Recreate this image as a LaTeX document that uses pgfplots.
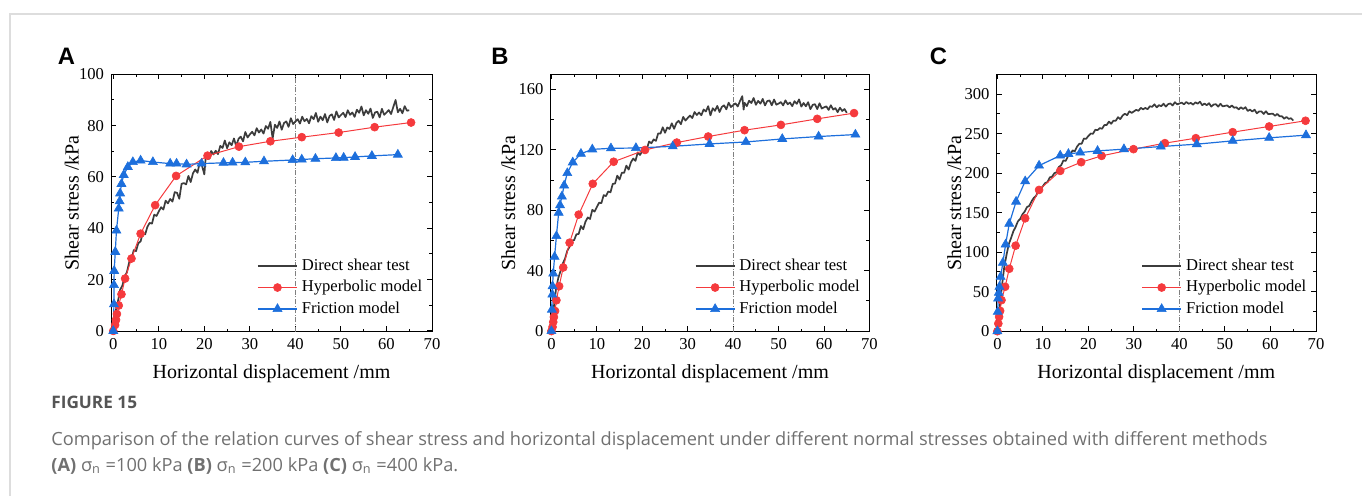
\documentclass[border=0pt]{standalone}
\usepackage{fontspec}
\setmainfont{Liberation Serif}
\newfontfamily\capfont{Open Sans}
\newfontfamily\panelfont{Liberation Sans}
\usepackage{pgfplots}
\pgfplotsset{compat=1.18}
\definecolor{testgray}{HTML}{3C3C3C}
\definecolor{hypred}{HTML}{F53A3D}
\definecolor{fricblue}{HTML}{1D6FDC}
\definecolor{capgray}{HTML}{707070}
\definecolor{capdark}{HTML}{555555}
\definecolor{framegray}{HTML}{DDDDDD}
\definecolor{vgray}{HTML}{808080}
\pgfplotsset{
  myax/.style={
    scale only axis, height=128.7pt,
    xmax=70, xtick={0,10,...,70}, minor x tick num=1, minor y tick num=1,
    axis line style={line width=0.5pt},
    every tick/.style={black, line width=0.5pt},
    major tick length=2.6pt, minor tick length=1.5pt,
    tick label style={font=\fontsize{8.3}{10}\selectfont},
    /pgf/number format/assume math mode=true,
    label style={font=\fontsize{8.3}{10}\selectfont},
    xlabel={Horizontal displacement /mm},
    ylabel={Shear stress /kPa},
    every axis x label/.style={at={(axis description cs:0.5,-0.163)}, anchor=center},
    clip=false,
    legend cell align=left,
    legend style={draw=none, fill=none, font=\fontsize{8.3}{10}\selectfont, anchor=north west, row sep=-0.55pt, inner sep=0pt},
    legend image code/.code={\draw[mark repeat=2,mark phase=2,##1] plot coordinates {(0pt,0pt) (9.75pt,0pt) (19.5pt,0pt)};},
  },
  testst/.style={testgray, line width=0.85pt, line join=round, no marks},
  hypst/.style={hypred, line width=0.5pt, mark=*, mark size=2pt, mark options={fill=hypred, draw=hypred, line width=0.3pt}},
  fricst/.style={fricblue, line width=0.6pt, mark=triangle*, mark size=2.6pt, mark options={fill=fricblue, draw=fricblue, line width=0.3pt}},
  vlinest/.style={vgray, line width=0.4pt, dash pattern=on 2.5pt off 0.8pt on 0.5pt off 0.8pt, forget plot, no marks},
}
\begin{document}
\begin{tikzpicture}
\useasboundingbox (0,0) rectangle (681pt,248pt);
\draw[framegray, line width=1pt] (5pt,0) -- (5pt,241pt) -- (681pt,241pt);
% panel letters
\node[anchor=base west, inner sep=0, font=\panelfont\bfseries\fontsize{11.9}{12}\selectfont] at (28.7pt,215.5pt) {A};
\node[anchor=base west, inner sep=0, font=\panelfont\bfseries\fontsize{11.9}{12}\selectfont] at (245.5pt,215.5pt) {B};
\node[anchor=base west, inner sep=0, font=\panelfont\bfseries\fontsize{11.9}{12}\selectfont] at (464.7pt,215.5pt) {C};
% ---------------- A
\begin{axis}[myax, at={(55.5pt,82.15pt)}, anchor=south west, width=160.5pt,
  xmin=-0.5, ymin=-0.3, ymax=100, ytick={0,20,...,100},
  every axis y label/.style={at={(axis description cs:-0.1224,0.5)}, anchor=center, rotate=90},
  legend style={at={(0.454,0.30)}}]
\addplot[vlinest] coordinates {(40,-0.3) (40,100)};
\addplot[testst] coordinates {
(0,0) (0.25,4) (0.5,7.5) (1.0,11.3) (1.5,16.0) (2.0,17.7) (2.5,21.2) (3.0,22.9) (3.5,26.8) (4.0,27.9)
(4.5,31.5) (5.0,31.1) (5.5,34.2) (6.0,34.9) (6.5,38.3) (7.0,37.6) (7.5,40.6) (8.0,42.1) (8.5,41.8) (9.0,45.3)
(9.5,44.8) (10.0,46.6) (10.5,48.2) (11.0,47.3) (11.5,50.75) (12.0,49.7) (12.5,51.4) (13.0,50.4) (13.5,54.1) (14.0,53.8)
(14.5,51.5) (15.0,57.3) (15.5,57.6) (16.0,57.1) (16.5,60.4) (17.0,58.0) (17.5,61.4) (18.0,62.9) (18.5,61.6) (19.0,65.8)
(19.5,64.3) (20.0,61.0) (20.3,67.6) (20.5,67.8) (21.0,67.0) (21.5,70.1) (22.0,68.75) (22.5,70.2) (23.0,68.9) (23.5,72.1)
(24.0,71.3) (24.5,74.2) (25.0,71.2) (25.5,73.5) (26.0,72.35) (26.5,75.0) (27.0,72.0) (27.5,74.8) (28.0,75.7) (28.5,73.85)
(29.0,77.5) (29.5,75.4) (30.0,76.6) (30.5,77.6) (31.0,76.2) (31.5,79.0) (32.0,77.3) (32.5,78.5) (33.0,76.9) (33.5,79.85)
(34.0,78.8) (34.5,81.45) (35.0,75.0) (35.5,80.35) (36.0,79.1) (36.5,81.6) (37.0,78.4) (37.5,81.0) (38.0,81.65) (38.5,79.5)
(39.0,82.9) (39.5,80.6) (40.0,81.6) (40.5,82.5) (41.0,80.8) (41.5,83.5) (42.0,81.7) (42.5,82.6) (43.0,80.9) (43.5,83.7)
(44.0,82.5) (44.5,84.95) (45.0,81.5) (45.5,83.5) (46.0,82.1) (46.5,84.5) (47.0,81.25) (47.5,83.8) (48.0,84.4) (48.5,82.2)
(49.0,85.55) (49.5,83.2) (50.0,84.1) (50.5,85.0) (51.0,83.3) (51.5,86.0) (52.0,84.2) (52.5,85.1) (53.0,83.4) (53.5,86.2)
(54.0,85.0) (54.5,87.45) (55.0,84.0) (55.5,86.0) (56.0,84.6) (56.5,86.65) (57.0,83.0) (57.5,85.15) (58.0,85.4) (58.5,83.2)
(59.0,86.55) (59.5,84.2) (60.0,85.1) (60.5,86.05) (61.0,84.5) (61.5,87.25) (62.0,90.0) (62.5,85.2) (63.0,86.55) (63.5,84.8)
(64.0,87.6) (64.5,85.8) (65.0,86.0)};
\addplot[hypst] coordinates {
(0,0) (0.4,2.3) (0.6,4.3) (0.8,6.6) (1.2,9.9) (1.8,14.3) (2.6,20.4) (4.0,28.2) (6.0,37.9) (9.2,49.0)
(13.8,60.4) (20.7,68.3) (27.6,71.8) (34.5,73.9) (41.4,75.5) (49.5,77.3) (57.4,79.4) (65.4,81.2)};
\addplot[fricst] coordinates {
(0,0) (0.15,10.4) (0.15,17.9) (0.2,23.4) (0.44,30.8) (0.7,39.1) (1.2,47.7) (1.4,50.5) (1.5,53.6) (1.8,57.3)
(2.3,60.8) (3.2,63.9) (4.3,65.8) (6.0,66.4) (8.7,65.8) (12.5,65.2) (13.9,65.2) (16.1,64.9) (19.4,65.2) (24.2,65.5)
(26.2,65.6) (29.0,65.7) (33.1,66.1) (39.4,66.6) (41.4,66.8) (44.4,67.1) (48.9,67.4) (50.6,67.5) (53.1,67.8) (56.8,68.2)
(62.5,68.7)};
\legend{Direct shear test, Hyperbolic model, Friction model}
\end{axis}
% ---------------- B
\begin{axis}[myax, at={(275.25pt,82.15pt)}, anchor=south west, width=159.5pt,
  xmin=-0.2, ymin=-0.4, ymax=170, ytick={0,40,...,160},
  every axis y label/.style={at={(axis description cs:-0.1323,0.5)}, anchor=center, rotate=90},
  legend style={at={(0.451,0.30)}}]
\addplot[vlinest] coordinates {(40,-0.4) (40,170)};
\addplot[testst] coordinates {
(0,0) (0.25,8) (0.5,15) (1.0,27.4) (1.5,35.0) (2.0,39.7) (2.5,44.7) (3.0,48.0) (3.5,53.2) (4.0,55.85)
(4.5,59.9) (5.0,60.2) (5.5,64.05) (6.0,64.3) (6.5,69.55) (7.0,67.4) (7.5,72.5) (8.0,75.2) (8.5,74.2) (9.0,80.3)
(9.5,79.1) (10.0,82.1) (10.5,85.0) (11.0,84.7) (11.5,90.0) (12.0,89.35) (12.5,92.4) (13.0,91.9) (13.5,97.4) (14.0,97.7)
(14.5,102.9) (15.0,100.3) (15.5,104.8) (16.0,104.8) (16.5,109.55) (17.0,106.9) (17.5,111.75) (18.0,114.2) (18.5,112.7) (19.0,118.3)
(19.5,116.6) (20.0,119.1) (20.5,121.5) (21.0,120.7) (21.5,125.5) (22.0,124.35) (22.5,126.9) (23.0,125.9) (23.5,130.9) (24.0,130.7)
(24.5,134.9) (25.0,131.3) (25.5,134.8) (26.0,133.8) (26.5,137.55) (27.0,133.9) (27.5,137.75) (28.0,139.2) (28.5,136.95) (29.0,141.8)
(29.5,139.35) (30.0,141.1) (30.5,142.7) (31.0,141.0) (31.5,145.0) (32.0,143.05) (32.5,144.7) (33.0,142.9) (33.5,146.7) (34.0,145.4)
(34.5,148.9) (35.0,142.8) (35.5,147.5) (36.0,145.8) (36.5,149.1) (37.0,145.0) (37.5,148.4) (38.0,149.45) (38.5,146.8) (39.0,151.2)
(39.5,148.3) (40.0,149.6) (40.5,150.75) (41.0,148.7) (41.5,152.25) (42.0,155.5) (42.3,146.6) (42.5,151.15) (43.0,148.9) (43.5,152.5)
(44.0,150.95) (44.5,154.3) (45.0,149.8) (45.5,152.4) (46.0,150.55) (46.5,153.7) (47.0,149.4) (47.5,152.25) (48.0,152.7) (48.5,149.45)
(49.0,153.3) (49.5,149.85) (50.0,150.6) (50.5,151.6) (51.0,149.4) (51.5,152.75) (52.0,150.15) (52.5,151.3) (53.0,148.9) (53.5,152.2)
(54.0,150.4) (54.5,153.4) (55.0,148.6) (55.5,151.0) (56.0,148.8) (56.5,151.55) (57.0,146.9) (57.5,149.75) (58.0,150.2) (58.5,146.95)
(59.0,150.8) (59.5,147.35) (60.0,148.1) (60.5,148.8) (61.0,146.4) (61.5,149.5) (62.0,146.65) (62.5,147.6) (63.0,144.9) (63.5,147.9)
(64.0,145.7) (64.5,147.0) (65.0,144.5)};
\addplot[hypst] coordinates {
(0,0) (0.25,2.7) (0.4,6.0) (0.55,9.3) (0.8,13.3) (1.1,20.4) (1.7,29.7) (2.6,42.1) (4.0,58.5) (6.0,77.1)
(9.1,97.5) (13.7,112.1) (20.6,119.9) (27.6,124.8) (34.5,128.8) (42.5,133.0) (50.5,136.5) (58.5,140.5) (66.6,144.3)};
\addplot[fricst] coordinates {
(0,0) (0.1,14.2) (0.2,24.2) (0.25,29.7) (0.4,38.1) (0.7,49.2) (1.1,62.9) (1.6,78.4) (1.9,83.3) (2.3,89.1)
(2.8,96.4) (3.5,104.6) (4.7,111.7) (6.5,117.4) (9.0,120.3) (13.1,121.0) (18.6,121.2) (26.7,122.3) (34.8,123.9) (42.8,125.2)
(50.8,127.2) (58.8,128.8) (66.9,130.1)};
\legend{Direct shear test, Hyperbolic model, Friction model}
\end{axis}
% ---------------- C
\begin{axis}[myax, at={(498.25pt,82.15pt)}, anchor=south west, width=159.75pt,
  xmin=-0.2, ymin=-0.6, ymax=325, ytick={0,50,...,300},
  every axis y label/.style={at={(axis description cs:-0.1321,0.5)}, anchor=center, rotate=90},
  legend style={at={(0.452,0.30)}}]
\addplot[vlinest] coordinates {(40,-0.6) (40,325)};
\addplot[testst] coordinates {
(0,0) (0.25,15) (0.5,30) (1.0,57.3) (1.5,81.1) (2.0,96.6) (2.5,110.2) (3.0,117.9) (3.5,126.3) (4.0,131.9)
(4.5,139.0) (5.0,142.0) (5.5,147.9) (6.0,151.3) (6.5,157.0) (7.0,158.6) (7.5,164.3) (8.0,168.7) (8.5,171.3) (9.0,178.0)
(9.5,179.7) (10.0,183.5) (10.5,187.5) (11.0,188.5) (11.5,194.6) (12.0,195.4) (12.5,199.9) (13.0,201.1) (13.5,207.8) (14.0,209.8)
(14.5,216.1) (15.0,215.4) (15.5,221.2) (16.0,222.9) (16.5,228.7) (17.0,227.6) (17.5,233.5) (18.0,237.1) (18.5,237.05) (19.0,243.7)
(19.5,243.45) (20.0,247.1) (20.5,250.0) (21.0,249.8) (21.5,254.8) (22.0,254.4) (22.5,256.9) (23.0,256.1) (23.5,260.8) (24.0,260.8)
(24.5,265.1) (25.0,262.4) (25.5,266.4) (26.0,266.2) (26.5,270.7) (27.0,268.3) (27.5,272.8) (28.0,275.1) (28.5,273.3) (29.0,278.2)
(29.5,276.2) (30.0,278.1) (30.5,280.0) (31.0,278.8) (31.5,282.5) (32.0,280.7) (32.5,282.4) (33.0,280.8) (33.5,284.6) (34.0,283.8)
(34.5,287.0) (35.0,283.2) (35.5,285.95) (36.0,284.6) (36.5,287.8) (37.0,284.1) (37.5,287.25) (38.0,288.1) (38.5,285.55) (39.0,289.7)
(39.5,286.95) (40.0,288.1) (40.5,289.1) (41.0,287.0) (41.5,290.05) (42.0,287.7) (42.5,288.8) (43.0,286.6) (43.5,289.55) (44.0,287.8)
(44.5,290.35) (45.0,285.9) (45.5,287.95) (46.0,285.9) (46.5,288.45) (47.0,284.1) (47.5,286.75) (48.0,287.1) (48.5,284.05) (49.0,287.7)
(49.5,284.45) (50.0,285.1) (50.5,285.6) (51.0,283.0) (51.5,285.55) (52.0,282.7) (52.5,283.3) (53.0,280.6) (53.5,283.2) (54.0,281.1)
(54.5,283.35) (55.0,278.6) (55.5,280.3) (56.0,277.9) (56.5,280.2) (57.0,275.6) (57.5,278.0) (58.0,278.1) (58.5,274.8) (59.0,278.2)
(59.5,274.6) (60.0,274.9) (60.5,275.25) (61.0,272.5) (61.5,274.9) (62.0,271.9) (62.5,272.0) (63.0,268.8) (63.5,271.05) (64.0,268.6)
(64.5,269.4) (65.0,266.5)};
\addplot[hypst] coordinates {
(0,0) (0.2,9.7) (0.37,18.2) (0.6,25.8) (0.9,39.3) (1.7,56.2) (2.6,79.0) (4.0,108.2) (6.1,142.8) (9.15,178.7)
(13.8,202.8) (18.4,213.8) (22.9,221.8) (29.9,230.3) (36.8,237.9) (43.6,244.2) (51.7,251.8) (59.7,259.0) (67.7,266.2)};
\addplot[fricst] coordinates {
(0,0) (0.07,24.5) (0.15,41.4) (0.3,48.6) (0.44,56.2) (0.7,68.9) (1.2,86.6) (1.8,109.8) (2.6,136.0) (4.1,163.9)
(6.1,189.7) (9.15,209.5) (13.8,222.2) (15.6,224.3) (18.2,226.0) (22.0,228.1) (27.8,230.3) (35.9,233.6) (43.8,236.6) (51.7,240.8)
(59.7,244.6) (67.8,248.0)};
\legend{Direct shear test, Hyperbolic model, Friction model}
\end{axis}
% caption
\node[anchor=base west, inner sep=0, font=\capfont\bfseries\fontsize{8.6}{10}\selectfont, text=capdark] at (25.5pt,43.5pt) {FIGURE 15};
\node[anchor=base west, inner sep=0, font=\capfont\fontsize{9.1}{11}\selectfont, text=capgray] at (25.5pt,25pt) {Comparison of the relation curves of shear stress and horizontal displacement under different normal stresses obtained with different methods};
\node[anchor=base west, inner sep=0, font=\capfont\fontsize{9.1}{11}\selectfont, text=capgray] at (25.5pt,12pt) {\textbf{(A)} σ\textsubscript{n} =100 kPa \textbf{(B)} σ\textsubscript{n} =200 kPa \textbf{(C)} σ\textsubscript{n} =400 kPa.};
\end{tikzpicture}
\end{document}
